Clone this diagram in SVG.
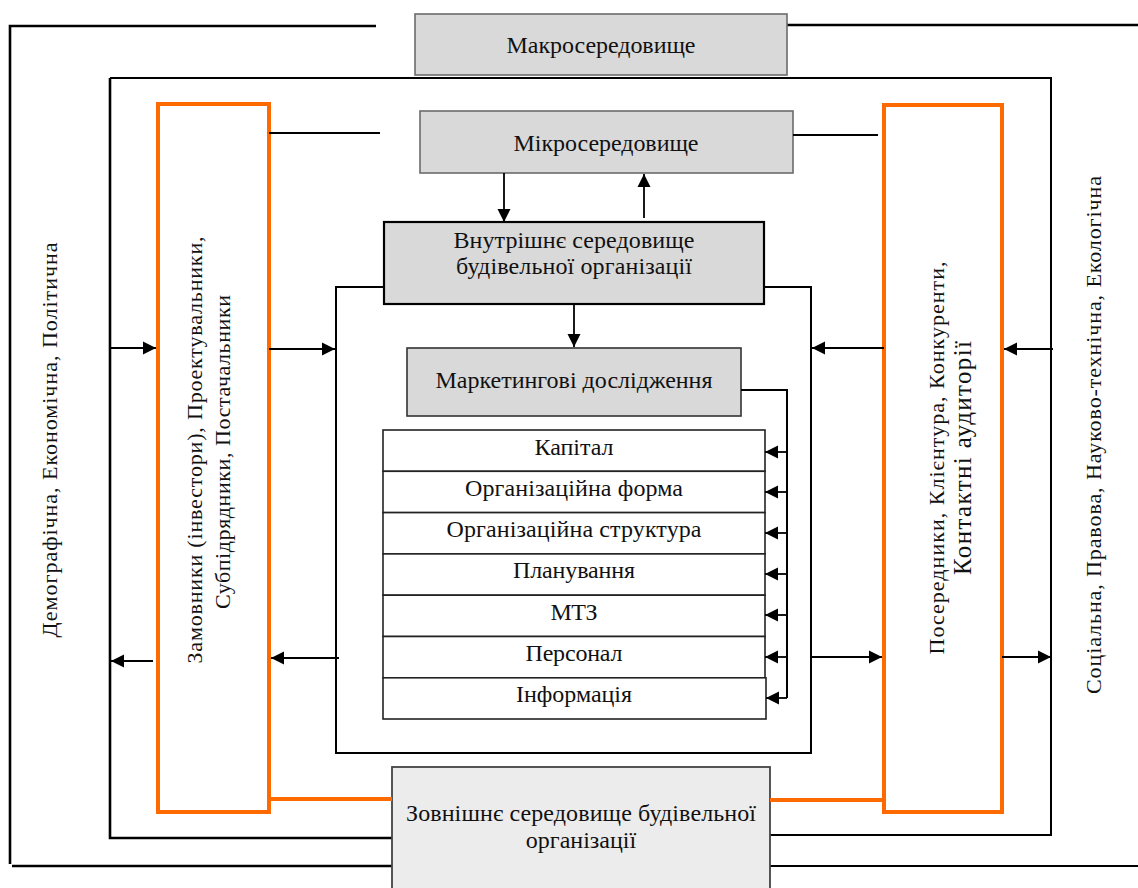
<svg xmlns="http://www.w3.org/2000/svg" width="1138" height="888" viewBox="0 0 1138 888">
<style>
text{font-family:"Liberation Serif","Times New Roman",serif;fill:#111;font-size:24px;text-anchor:middle}
.s{font-size:22px}
.ln{fill:none;stroke:#000;stroke-width:2}
.th{fill:none;stroke:#000;stroke-width:2.6}
.or{fill:none;stroke:#ff6a00;stroke-width:4}
.ar{fill:none;stroke:#000;stroke-width:1.8;marker-end:url(#ah)}
.gb{fill:#d9d9d9;stroke:#6b6b6b;stroke-width:1.6}
.row{fill:#fff;stroke:#222;stroke-width:1.6}
</style>
<defs>
<marker id="ah" viewBox="0 0 10 10" refX="10" refY="5" markerWidth="13" markerHeight="14" markerUnits="userSpaceOnUse" orient="auto"><path d="M0,0 L10,5 L0,10 z" fill="#000"/></marker>
</defs>
<rect width="1138" height="888" fill="#fff"/>

<g id="frames">
<path class="th" d="M376,26 H10 V864"/>
<path class="th" d="M12,866 H392"/>
<path class="th" d="M787,25 H1138"/>
<path class="ln" d="M766,866 H1138"/>
<path class="ln" d="M110,78 H1051 V835 H769"/>
<path class="th" d="M110,78 V838 H392"/>
<path class="ln" d="M384,287 H336 V753 H811 V287 H764"/>
</g>

<g id="macro">
<rect class="gb" x="415" y="14" width="372" height="61"/>
<text x="601" y="53" textLength="189" lengthAdjust="spacing">Макросередовище</text>
</g>

<g id="micro">
<rect class="gb" x="420" y="111" width="373" height="62"/>
<text x="606" y="151" textLength="185" lengthAdjust="spacing">Мікросередовище</text>
</g>

<g id="inner">
<rect x="384" y="222" width="380" height="82" fill="#d9d9d9" stroke="#000" stroke-width="2.2"/>
<text x="574" y="248" textLength="241" lengthAdjust="spacing">Внутрішнє середовище</text>
<text x="574" y="274" textLength="236" lengthAdjust="spacing">будівельної організації</text>
</g>

<g id="marketing">
<rect x="407" y="348" width="334" height="68" fill="#d9d9d9" stroke="#333" stroke-width="1.6"/>
<text x="574" y="388" textLength="277" lengthAdjust="spacing">Маркетингові дослідження</text>
</g>

<g id="rows">
<rect class="row" x="383" y="430" width="382" height="41.3"/>
<rect class="row" x="383" y="471.3" width="382" height="41.3"/>
<rect class="row" x="383" y="512.6" width="382" height="41.3"/>
<rect class="row" x="383" y="553.9" width="382" height="41.3"/>
<rect class="row" x="383" y="595.2" width="382" height="41.3"/>
<rect class="row" x="383" y="636.5" width="382" height="41.3"/>
<rect class="row" x="383" y="677.8" width="383" height="41.2"/>
<text x="574" y="454.5" textLength="79" lengthAdjust="spacing">Капітал</text>
<text x="574" y="495.8" textLength="218" lengthAdjust="spacing">Організаційна форма</text>
<text x="574" y="537.1" textLength="255" lengthAdjust="spacing">Організаційна структура</text>
<text x="574" y="578.4" textLength="122" lengthAdjust="spacing">Планування</text>
<text x="574" y="619.7" textLength="47" lengthAdjust="spacing">МТЗ</text>
<text x="574" y="661" textLength="97" lengthAdjust="spacing">Персонал</text>
<text x="574" y="702.3" textLength="116" lengthAdjust="spacing">Інформація</text>
</g>

<g id="left-orange">
<rect class="or" x="158" y="104" width="111" height="708"/>
<text class="s" transform="translate(202,450) rotate(-90)" textLength="427" lengthAdjust="spacing">Замовники (інвестори), Проектувальники,</text>
<text class="s" transform="translate(230,452) rotate(-90)" textLength="314" lengthAdjust="spacing">Субпідрядники, Постачальники</text>
</g>

<g id="right-orange">
<rect class="or" x="884" y="105" width="118" height="707"/>
<text class="s" transform="translate(944,458) rotate(-90)" textLength="393" lengthAdjust="spacing">Посередники, Клієнтура, Конкуренти,</text>
<text transform="translate(971,458) rotate(-90)" style="font-size:25px" textLength="234" lengthAdjust="spacing">Контактні аудиторії</text>
</g>

<g id="external">
<rect x="392" y="767" width="378" height="125" fill="#ececec" stroke="#444" stroke-width="1.8"/>
<text x="581" y="821" textLength="350" lengthAdjust="spacing">Зовнішнє середовище будівельної</text>
<text x="581" y="848">організації</text>
</g>

<g id="macro-factors">
<text class="s" transform="translate(57,440) rotate(-90)" textLength="395" lengthAdjust="spacing">Демографічна, Економічна, Політична</text>
<text class="s" transform="translate(1101,435) rotate(-90)" textLength="518" lengthAdjust="spacing">Соціальна, Правова, Науково-технічна, Екологічна</text>
</g>

<g id="connectors">
<path class="or" d="M269,799 H392"/>
<path class="or" d="M770,800 H884"/>
<path class="ln" d="M269,133 H380"/>
<path class="ln" d="M793,135 H878"/>
<path class="ar" d="M504,173 V222"/>
<path class="ar" d="M644,218 V174"/>
<path class="ar" d="M574,304 V347"/>
<path class="ln" d="M741,390 H787 V698"/>
<path class="ar" d="M787,452 H765"/>
<path class="ar" d="M787,492 H765"/>
<path class="ar" d="M787,533 H765"/>
<path class="ar" d="M787,574 H765"/>
<path class="ar" d="M787,615 H765"/>
<path class="ar" d="M787,657 H765"/>
<path class="ar" d="M787,698 H766"/>
<path class="ar" d="M110,348 H156"/>
<path class="ar" d="M269,349 H335"/>
<path class="ar" d="M153,661 H111"/>
<path class="ar" d="M339,658 H271"/>
<path class="ar" d="M884,348 H812"/>
<path class="ar" d="M1053,349 H1004"/>
<path class="ar" d="M811,657 H882"/>
<path class="ar" d="M1002,657 H1051"/>
</g>
</svg>
